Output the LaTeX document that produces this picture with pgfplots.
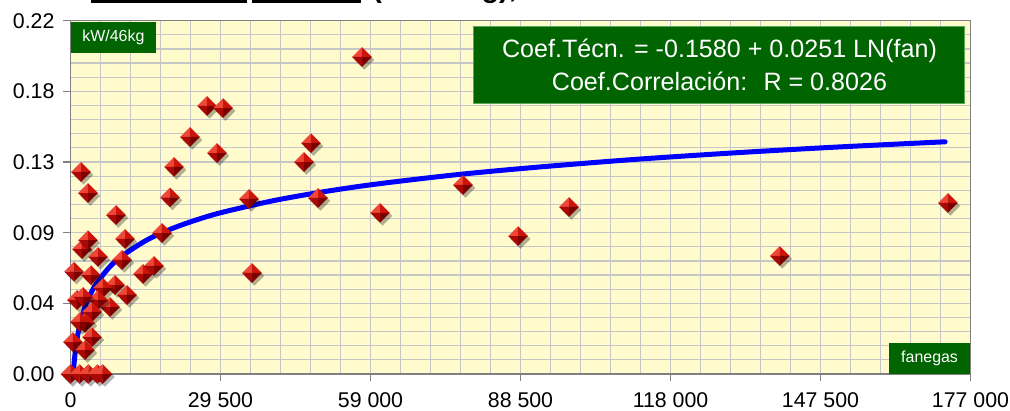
\documentclass[border=0pt]{standalone}
\usepackage{pgfplots}
\pgfplotsset{compat=1.18}
\usepackage{fontspec}
\setmainfont{Liberation Sans}
\definecolor{bgyellow}{RGB}{255,251,204}
\definecolor{gridgray}{RGB}{198,198,198}
\definecolor{boxgreen}{RGB}{0,100,0}
\definecolor{curveblue}{RGB}{0,0,255}
\definecolor{facetl}{RGB}{238,70,55}
\definecolor{facetr}{RGB}{205,20,10}
\definecolor{facebr}{RGB}{125,0,0}
\definecolor{facebl}{RGB}{170,8,5}
\pgfdeclareplotmark{pyr}{%
  \begin{pgfscope}
  \pgfsetfillcolor{black}\pgfsetfillopacity{0.3}
  \pgfpathmoveto{\pgfqpoint{0.25\pgfplotmarksize}{0.7\pgfplotmarksize}}
  \pgfpathlineto{\pgfqpoint{1.25\pgfplotmarksize}{-0.3\pgfplotmarksize}}
  \pgfpathlineto{\pgfqpoint{0.25\pgfplotmarksize}{-1.3\pgfplotmarksize}}
  \pgfpathlineto{\pgfqpoint{-0.75\pgfplotmarksize}{-0.3\pgfplotmarksize}}
  \pgfpathclose\pgfusepath{fill}
  \end{pgfscope}
  \begin{pgfscope}
  \pgfsetfillcolor{facetl}
  \pgfpathmoveto{\pgfqpoint{-\pgfplotmarksize}{0pt}}
  \pgfpathlineto{\pgfqpoint{0pt}{\pgfplotmarksize}}
  \pgfpathlineto{\pgfqpoint{0pt}{0pt}}
  \pgfpathclose\pgfusepath{fill}
  \pgfsetfillcolor{facetr}
  \pgfpathmoveto{\pgfqpoint{0pt}{\pgfplotmarksize}}
  \pgfpathlineto{\pgfqpoint{\pgfplotmarksize}{0pt}}
  \pgfpathlineto{\pgfqpoint{0pt}{0pt}}
  \pgfpathclose\pgfusepath{fill}
  \pgfsetfillcolor{facebr}
  \pgfpathmoveto{\pgfqpoint{\pgfplotmarksize}{0pt}}
  \pgfpathlineto{\pgfqpoint{0pt}{-\pgfplotmarksize}}
  \pgfpathlineto{\pgfqpoint{0pt}{0pt}}
  \pgfpathclose\pgfusepath{fill}
  \pgfsetfillcolor{facebl}
  \pgfpathmoveto{\pgfqpoint{0pt}{-\pgfplotmarksize}}
  \pgfpathlineto{\pgfqpoint{-\pgfplotmarksize}{0pt}}
  \pgfpathlineto{\pgfqpoint{0pt}{0pt}}
  \pgfpathclose\pgfusepath{fill}
  \end{pgfscope}
}
\pgfplotstableread{
x y
0 0
1800 0
3500 0
5300 0
6300 0
2070 0.1258
3440 0.1127
690 0.0637
2260 0.0778
3440 0.0834
5410 0.0729
4030 0.0616
8950 0.0990
10720 0.0841
10130 0.0710
8750 0.0554
6390 0.0536
11110 0.0492
7770 0.0417
5410 0.0461
1280 0.0461
2460 0.0480
4230 0.0386
2850 0.0318
1870 0.0324
4230 0.0230
490 0.0199
2850 0.0149
14260 0.0623
16420 0.0673
17990 0.0878
19570 0.1100
20350 0.1290
23500 0.1476
26850 0.1669
30000 0.1656
28810 0.1376
35100 0.1090
35700 0.0629
45920 0.1320
47300 0.1438
48680 0.1096
57330 0.1974
60870 0.1003
77190 0.1177
88010 0.0859
98040 0.1040
139500 0.0735
172560 0.1065
}\pts
\pgfplotstableread{
x y
541 0
600 0.0026
700 0.0064
800 0.0098
1000 0.0154
1200 0.0200
1500 0.0256
2000 0.0328
3000 0.0430
4000 0.0502
5000 0.0558
7500 0.0660
10000 0.0732
15000 0.0834
20000 0.0906
25000 0.0962
30000 0.1008
40000 0.1080
50000 0.1136
60000 0.1182
75000 0.1238
90000 0.1283
110000 0.1334
130000 0.1376
150000 0.1412
172000 0.1446
}\fit
\begin{document}
\begin{tikzpicture}
\useasboundingbox (0,0) rectangle (505bp,205.5bp);
\node[anchor=base west, font=\bfseries\fontsize{14.5}{16}\selectfont, inner sep=0pt] at (45.5bp,206.9bp) {Coeficiente Técnico (kW/46kg),};
\draw[line width=1.5bp] (45.5bp,204.8bp) -- (123.5bp,204.8bp);
\draw[line width=1.5bp] (126bp,204.8bp) -- (180.5bp,204.8bp);
\begin{axis}[
  at={(35.25bp,18.5bp)}, anchor=south west,
  scale only axis, width=450bp, height=176.65bp,
  xmin=0, xmax=177000, ymin=0, ymax=0.22,
  xtick={0,29500,59000,88500,118000,147500,177000},
  xticklabels={0,29 500,59 000,88 500,118 000,147 500,177 000},
  ytick={0,0.044,0.088,0.132,0.176,0.22},
  yticklabels={0.00,0.04,0.09,0.13,0.18,0.22},
  minor x tick num=4, minor y tick num=4,
  grid=both,
  grid style={draw=gridgray, line width=0.6bp},
  minor grid style={draw=gridgray, line width=0.6bp},
  axis background/.style={fill=bgyellow},
  axis line style={draw=gray, line width=0.7bp},
  tick style={draw=gray, line width=0.7bp},
  tick align=outside, major tick length=3.5bp, minor tick length=0pt,
  xtick pos=left, ytick pos=left,
  tick label style={font=\fontsize{10.7}{12}\selectfont},
  yticklabel style={xshift=-1bp},
  xticklabel style={yshift=-2.5bp},
  /pgf/number format/assume math mode=true,
  scaled ticks=false,
  clip=false,
]
\addplot[only marks, mark=pyr, mark size=4.9bp] table {\pts};
\addplot[curveblue, line width=2.5bp, line cap=round, smooth, no marks] table {\fit};
\node[fill=boxgreen, text=white, anchor=north west, minimum width=42.5bp, minimum height=15.5bp, inner sep=0pt, font=\fontsize{8}{9}\selectfont] at ([yshift=-0.6bp]rel axis cs:0,1) {kW/46kg};
\node[fill=boxgreen, text=white, anchor=south east, minimum width=40.5bp, minimum height=15.5bp, inner sep=0pt, font=\fontsize{8}{9}\selectfont] at (rel axis cs:1,0) {fanegas};
\node[fill=boxgreen, draw=green!30!gray, line width=0.5bp, text=white, minimum width=245.5bp, minimum height=38.5bp, inner sep=0pt, align=center, font=\fontsize{12.6}{16.5}\selectfont] at (rel axis cs:0.7211,0.876) {Coef.Técn. = -0.1580 + 0.0251 LN(fan)\\Coef.Correlación:~ R = 0.8026};
\end{axis}
\end{tikzpicture}
\end{document}
